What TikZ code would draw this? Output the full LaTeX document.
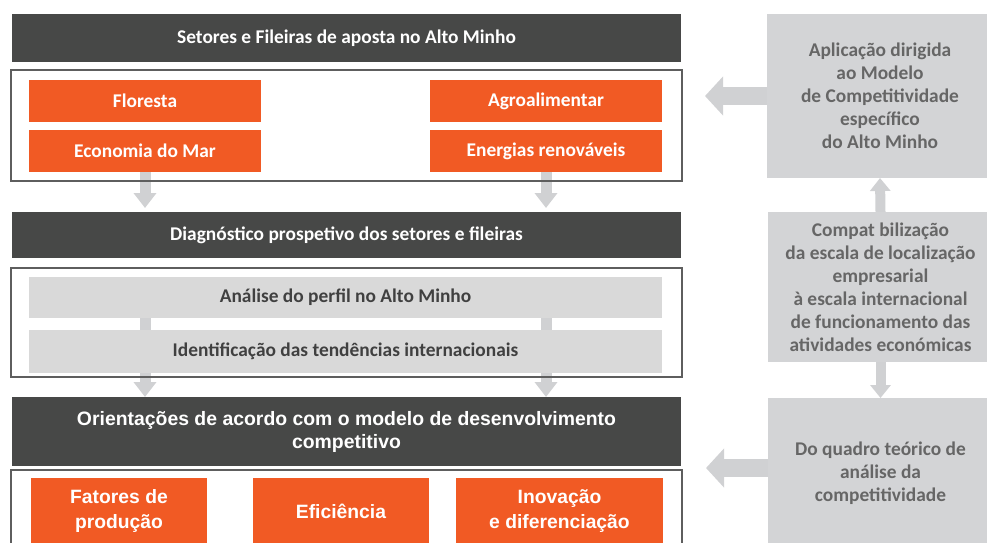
\documentclass[tikz,border=0pt]{standalone}
\usepackage{fontspec}
\setmainfont{Carlito}
\newfontfamily\arialf{Liberation Sans}
\usetikzlibrary{arrows.meta}
\pgfdeclarelayer{background}
\pgfsetlayers{background,main}
\definecolor{barcol}{HTML}{474847}
\definecolor{orng}{HTML}{F15A24}
\definecolor{lgray}{HTML}{D9D9D9}
\definecolor{rgray}{HTML}{D3D4D6}
\definecolor{agray}{HTML}{D0D1D3}
\definecolor{frm}{HTML}{5E5E5E}
\definecolor{ltxt}{HTML}{404040}
\definecolor{rtxt}{HTML}{666666}
\begin{document}
\begin{tikzpicture}[x=1pt,y=-1pt,
  base/.style={inner sep=0pt, outer sep=0pt, anchor=north west, align=center,
    font=\bfseries\fontsize{19.4}{23}\selectfont},
  sz/.style 2 args={minimum width=#1pt, minimum height=#2pt},
  darkbar/.style={base, fill=barcol, text=white},
  orbox/.style={base, fill=orng, text=white},
  orboxa/.style={base, fill=orng, text=white, font=\arialf\bfseries\fontsize{19.3}{24.5}\selectfont},
  lbox/.style={base, fill=lgray, text=ltxt},
  rbox/.style={base, fill=rgray, text=rtxt},
  frame/.style={base, draw=frm, line width=2pt},
  darrow/.style={draw=agray, line width=11pt, -{Triangle[width=22pt,length=15pt]}},
  varrow/.style={draw=agray, line width=10pt, -{Triangle[width=20pt,length=13pt]}},
  harrow/.style={draw=agray, line width=18pt, -{Triangle[width=38pt,length=18pt]}}
]
\useasboundingbox (0,0) rectangle (987,542);
\clip (0,0) rectangle (987,542);

% left column
\node[darkbar, sz={669}{48}] (bar1) at (12,14) {Setores e Fileiras de aposta no Alto Minho};
\node[frame, sz={671}{111}] (frame1) at (11,70) {};
\node[orbox, sz={232}{42}] (flor) at (29,80) {Floresta};
\node[orbox, sz={232}{42}] (econ) at (29,130) {Economia do Mar};
\node[orbox, sz={232}{42}] (agro) at (430,80) {Agroalimentar};
\node[orbox, sz={232}{42}] (ener) at (430,130) {Energias renováveis};

\node[darkbar, sz={669}{46}] (bar2) at (12,212) {Diagnóstico prospetivo dos setores e fileiras};
\node[frame, sz={671}{109}] (frame2) at (11,268) {};
\node[lbox, sz={633}{41}] (anal) at (29,277) {Análise do perfil no Alto Minho};
\node[lbox, sz={633}{43}] (ident) at (29,330) {Identificação das tendências internacionais};

\node[darkbar, sz={669}{69}, font=\arialf\bfseries\fontsize{19.4}{23}\selectfont] (bar3) at (12,397)
  {Orientações de acordo com o modelo de desenvolvimento\\competitivo};
\node[frame, sz={671}{100}] (frame3) at (11,470) {};
\node[orboxa, sz={176}{66}] (fat) at (31,478) {Fatores de\\produção};
\node[orboxa, sz={176}{66}] (efi) at (253,478) {Eficiência};
\node[orboxa, sz={207}{66}] (inov) at (456,478) {Inovação\\e diferenciação};

% right column
\node[rbox, sz={226}{164}] (box1) at (767,14)
  {Aplicação dirigida\\ao Modelo\\de Competitividade\\específico\\do Alto Minho};
\node[rbox, sz={225}{150}] (box2) at (768,212)
  {Compat bilização\\da escala de localização\\empresarial\\à escala internacional\\de funcionamento das\\atividades económicas};
\node[rbox, sz={225}{150}] (box3) at (768,398)
  {Do quadro teórico de\\análise da\\competitividade};

\begin{pgfonlayer}{background}
  \draw[darrow, shorten >=4pt] (econ.south) -- (econ.south |- bar2.north);
  \draw[darrow, shorten >=4pt] (ener.south) -- (ener.south |- bar2.north);
  \draw[darrow] (econ.south |- anal.south) -- (econ.south |- bar3.north);
  \draw[darrow] (ener.south |- anal.south) -- (ener.south |- bar3.north);
  \draw[varrow] (box2.north) -- (box1.south);
  \draw[varrow] (box2.south) -- (box3.north);
  \draw[harrow, shorten >=23pt] (box1.west) -- (box1.west -| frame1.east);
  \draw[harrow, shorten >=24pt] ([yshift=5pt]box3.west) -- ([yshift=5pt]box3.west -| frame3.east);
\end{pgfonlayer}
\end{tikzpicture}
\end{document}
